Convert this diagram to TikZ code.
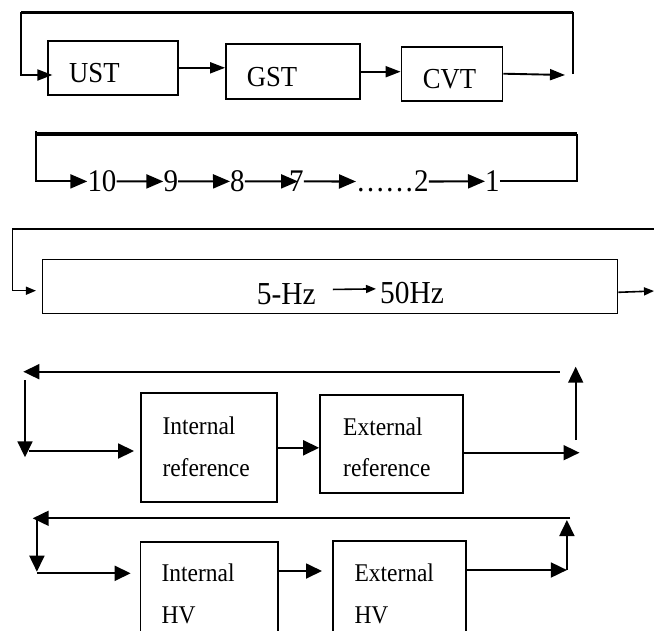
\documentclass[tikz,border=0pt]{standalone}
\usepackage{fontspec}
\setmainfont[FakeStretch=0.92]{Liberation Serif}
\usetikzlibrary{arrows.meta}

\begin{document}
\begin{tikzpicture}[x=1pt, y=-1pt]

    % Styles des noeuds
    \tikzstyle{bloc} = [rectangle, draw=black, line width=1.8pt, inner sep=0pt]
    \tikzstyle{txtbloc} = [anchor=base west, inner sep=0pt, font=\fontsize{29}{35}\selectfont]
    \tikzstyle{txtnum} = [anchor=base west, inner sep=0pt, font=\fontsize{31.5}{38}\selectfont]
    \tikzstyle{txtfreq} = [anchor=base west, inner sep=0pt, font=\fontsize{32}{38}\selectfont]
    \tikzstyle{txtref} = [anchor=base west, inner sep=0pt, font=\fontsize{25.5}{31}\selectfont]
    \tikzstyle{trait} = [line width=2pt]
    \tikzstyle{epais} = [line width=3.2pt]
    \tikzstyle{fleche} = [line width=1.9pt, -{Triangle[length=15pt,width=11pt]}]
    \tikzstyle{grandefleche} = [line width=2.1pt, -{Triangle[length=17pt,width=14pt]}]
    \tikzstyle{petitefleche} = [line width=1.4pt, -{Triangle[length=10pt,width=8pt]}]
    \tikzstyle{moyennefleche} = [line width=1.8pt, -{Triangle[length=16pt,width=15pt]}]

    \useasboundingbox (0,0) rectangle (654,630);
    \clip (0,0) rectangle (654,630);

    % Noeuds
    \node (ust) [bloc, minimum width=130pt, minimum height=54pt] at (112.7,67.8) {};
    \node (gst) [bloc, minimum width=134pt, minimum height=55pt] at (293,71.7) {};
    \node (cvt) [bloc, minimum width=101pt, minimum height=54pt] at (452,73.7) {};
    \node (ustT) [txtbloc] at (69,82.3) {UST};
    \node (gstT) [txtbloc] at (246.7,86.7) {GST};
    \node (cvtT) [txtbloc] at (422.7,88.3) {CVT};

    \node (n10) [txtnum] at (87.3,191.7) {10};
    \node (n9) [txtnum] at (163.3,191.7) {9};
    \node (n8) [txtnum] at (230,191.7) {8};
    \node (n7) [txtnum] at (289,191.7) {7};
    \node (n2) [txtnum] at (356,191.7) {……2};
    \node (n1) [txtnum] at (485,191.7) {1};

    \node (freq) [bloc, line width=1.5pt, minimum width=575pt, minimum height=54pt] at (330.2,286.3) {};
    \node (hz5) [txtfreq] at (256.7,304) {5-Hz};
    \node (hz50) [txtfreq] at (380,303.3) {50Hz};

    \node (intref) [bloc, minimum width=135.7pt, minimum height=109pt] at (208.8,447.8) {};
    \node (extref) [bloc, minimum width=143.3pt, minimum height=97.7pt] at (391.7,443.8) {};
    \node (intRefa) [txtref] at (162.3,434.3) {Internal};
    \node (intRefb) [txtref] at (162.3,476.7) {reference};
    \node (extRefa) [txtref] at (343,435) {External};
    \node (extRefb) [txtref] at (343,476.7) {reference};

    \node (inthv) [bloc, minimum width=137.5pt, minimum height=118pt] at (209.3,600.7) {};
    \node (exthv) [bloc, minimum width=133pt, minimum height=119pt] at (399.8,600.5) {};
    \node (intHVa) [txtref] at (161.4,581.7) {Internal};
    \node (intHVb) [txtref] at (161.4,623.3) {HV};
    \node (extHVa) [txtref] at (354.3,581) {External};
    \node (extHVb) [txtref] at (354.3,623) {HV};

    % Points libres
    \coordinate (retour1g) at (21,12.3);
    \coordinate (retour1d) at (573.3,12.3);
    \coordinate (bas1d) at (573.3,74);
    \coordinate (sortie1) at (565,75);
    \coordinate (retour2g) at (35.7,134);
    \coordinate (retour2d) at (576.7,134);
    \coordinate (retour3g) at (12.3,229);
    \coordinate (retour3d) at (654,229);
    \coordinate (sortie3) at (654,291);
    \coordinate (retour4g) at (23.3,371.7);
    \coordinate (retour4d) at (559.7,371.7);
    \coordinate (desc4h) at (25,380);
    \coordinate (desc4b) at (25,457.3);
    \coordinate (dep4) at (29.3,451);
    \coordinate (sortie4) at (579.5,452.7);
    \coordinate (mont4b) at (575.7,440);
    \coordinate (mont4h) at (575.7,366.7);
    \coordinate (retour5g) at (32.7,518.3);
    \coordinate (retour5d) at (570.2,518.3);
    \coordinate (desc5b) at (36.9,571.7);
    \coordinate (dep5) at (36.9,573.3);
    \coordinate (mil5) at (322,571);
    \coordinate (sortie5) at (566.9,570);
    \coordinate (mont5h) at (566.9,520);

    % Flèches
    \draw [fleche] (ust.east) -- (ust.east -| gst.west);
    \draw [fleche] (gst.east) -- (gst.east -| cvt.west);
    \draw [fleche] (cvt.east) -- (sortie1);
    \draw [trait] (bas1d) -- (retour1d);
    \draw [epais] (retour1d) -- (retour1g);
    \draw [fleche] (retour1g) |- ([xshift=5.6pt, yshift=-7.2pt]ust.west);

    \draw [epais] (retour2g) -- (retour2d);
    \draw [grandefleche] ([yshift=3pt]retour2g) |- (n10.west);
    \draw [grandefleche] (n10.east) -- (n9.west);
    \draw [grandefleche] (n9.east) -- (n8.west);
    \draw [grandefleche, shorten >=-9pt] (n8.east) -- (n7.west);
    \draw [grandefleche] (n7.east) -- (n2.west);
    \draw [grandefleche] (n2.east) -- (n1.west);
    \draw [line width=2.1pt] (n1.east) -| (retour2d);

    \draw [petitefleche] (retour3d) -- (retour3g) |- ([xshift=-6pt, yshift=-4.4pt]freq.west);
    \draw [petitefleche, line width=1.6pt, shorten <=17pt, shorten >=4pt] ([yshift=4pt]hz5.east) -- ([yshift=4pt]hz50.west);
    \draw [petitefleche, line width=1.6pt] ([yshift=-6pt]freq.east) -- (sortie3);

    \draw [moyennefleche] (retour4d) -- (retour4g);
    \draw [moyennefleche] (desc4h) -- (desc4b);
    \draw [moyennefleche, shorten >=6pt] (dep4) -- (dep4 -| intref.west);
    \draw [moyennefleche] (intref.east) -- (intref.east -| extref.west);
    \draw [moyennefleche] (extref.east |- sortie4) -- (sortie4);
    \draw [moyennefleche] (mont4b) -- (mont4h);

    \draw [moyennefleche] (retour5d) -- (retour5g);
    \draw [moyennefleche] (desc5b |- retour5g) -- (desc5b);
    \draw [moyennefleche, shorten >=9pt] (dep5) -- (dep5 -| inthv.west);
    \draw [moyennefleche] (inthv.east |- mil5) -- (mil5);
    \draw [moyennefleche] (exthv.east |- sortie5) -- (sortie5);
    \draw [moyennefleche] (sortie5) -- (mont5h);

\end{tikzpicture}
\end{document}
